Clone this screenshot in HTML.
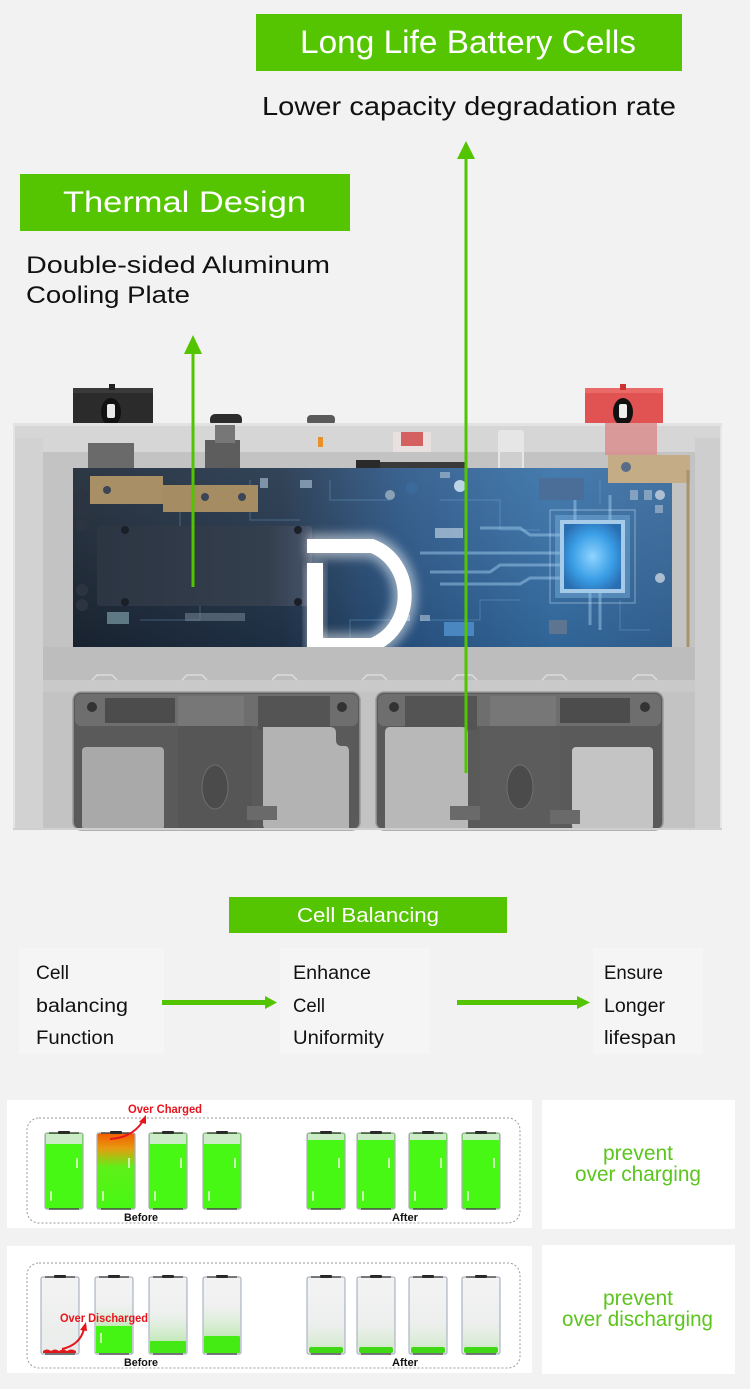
<!DOCTYPE html>
<html><head><meta charset="utf-8"><style>
html,body{margin:0;padding:0;background:#f2f2f2;}
svg{display:block;}
text{font-family:"Liberation Sans",Arial,sans-serif;}
</style></head><body>
<svg width="750" height="1389" viewBox="0 0 750 1389" xmlns="http://www.w3.org/2000/svg">
<defs>
<linearGradient id="pcb" x1="0" x2="1" y1="0" y2="0">
<stop offset="0" stop-color="#1b2634"/><stop offset="0.35" stop-color="#21344b"/><stop offset="0.55" stop-color="#2a5687"/><stop offset="0.8" stop-color="#3670a8"/><stop offset="1" stop-color="#35679a"/>
</linearGradient>
<linearGradient id="pcbv" x1="0" x2="0" y1="0" y2="1">
<stop offset="0" stop-color="#ffffff" stop-opacity="0.08"/><stop offset="1" stop-color="#000" stop-opacity="0.1"/>
</linearGradient>
<linearGradient id="hs" x1="0" x2="1" y1="0" y2="0">
<stop offset="0" stop-color="#2c3542"/><stop offset="0.8" stop-color="#343f4e"/><stop offset="1" stop-color="#46536a"/>
</linearGradient>
<radialGradient id="chip" cx="0.5" cy="0.5" r="0.6">
<stop offset="0" stop-color="#8fd4ff"/><stop offset="0.6" stop-color="#3a9ee6"/><stop offset="1" stop-color="#2a6eb2"/>
</radialGradient>
<linearGradient id="casing" x1="0" x2="1" y1="0" y2="0">
<stop offset="0" stop-color="#cecece"/><stop offset="0.5" stop-color="#c8c8c8"/><stop offset="1" stop-color="#cdcdcd"/>
</linearGradient>
<linearGradient id="empty" x1="0" x2="0" y1="0" y2="1">
<stop offset="0" stop-color="#f3f3f3"/><stop offset="1" stop-color="#e9ecea"/>
</linearGradient>
<linearGradient id="fade" x1="0" x2="0" y1="0" y2="1">
<stop offset="0" stop-color="#d8f0d4" stop-opacity="0"/><stop offset="1" stop-color="#bfe8b5" stop-opacity="0.9"/>
</linearGradient>
<linearGradient id="over" x1="0" x2="0" y1="0" y2="1">
<stop offset="0" stop-color="#f25a00"/><stop offset="0.2" stop-color="#e89a10"/><stop offset="0.45" stop-color="#5ef018"/><stop offset="1" stop-color="#47f814"/>
</linearGradient>
<filter id="glow" x="-30%" y="-30%" width="160%" height="160%"><feGaussianBlur stdDeviation="5"/></filter>
</defs>

<rect width="750" height="1389" fill="#f2f2f2"/>

<!-- ========== PRODUCT IMAGE ========== -->
<rect x="73" y="388" width="80" height="36" fill="#2b2b2b"/>
<rect x="73" y="388" width="80" height="5" fill="#3a3a3a"/>
<ellipse cx="111" cy="412" rx="10" ry="14" fill="#111"/>
<rect x="107" y="404" width="8" height="14" rx="2" fill="#e8e8e8"/>
<rect x="109" y="384" width="6" height="6" fill="#222"/>
<rect x="585" y="388" width="78" height="36" fill="#e15252"/>
<rect x="585" y="388" width="78" height="5" fill="#ea6a6a"/>
<ellipse cx="623" cy="412" rx="10" ry="14" fill="#111"/>
<rect x="619" y="404" width="8" height="14" rx="2" fill="#eee"/>
<rect x="620" y="384" width="6" height="6" fill="#c33"/>
<rect x="210" y="414" width="32" height="12" rx="5" fill="#2c2c2c"/>
<rect x="307" y="415" width="28" height="10" rx="4" fill="#5a5a5a"/>

<rect x="13" y="423" width="709" height="407" fill="url(#casing)"/>
<rect x="13" y="423" width="709" height="3" fill="#e2e2e2"/>
<polygon points="13,426 722,426 722,438 695,452 43,452 13,438" fill="#d6d6d6"/>
<rect x="43" y="452" width="652" height="378" fill="#c3c3c3"/>
<rect x="13" y="438" width="30" height="392" fill="#d2d2d2"/>
<rect x="695" y="438" width="27" height="392" fill="#cecece"/>
<rect x="720" y="426" width="2" height="404" fill="#e6e6e6"/>
<rect x="13" y="426" width="2" height="404" fill="#e4e4e4"/>
<rect x="605" y="423" width="52" height="32" fill="#d98a8a" opacity="0.8"/>
<rect x="88" y="443" width="46" height="36" fill="#6a6a6a"/>
<rect x="205" y="440" width="35" height="50" fill="#5d5d5d"/>
<rect x="215" y="425" width="20" height="18" fill="#777"/>
<rect x="318" y="437" width="5" height="10" fill="#e8902a"/>
<rect x="393" y="432" width="38" height="20" fill="#e9e0e0"/>
<rect x="401" y="432" width="22" height="14" fill="#d46060"/>
<rect x="356" y="460" width="24" height="30" fill="#2a2a2a"/>
<rect x="380" y="462" width="85" height="8" fill="#3a3a3a"/>
<rect x="498" y="430" width="26" height="55" rx="3" fill="#e6e6e6"/>
<rect x="500" y="452" width="22" height="32" fill="#cfcfcf"/>

<rect x="73" y="468" width="599" height="179" fill="url(#pcb)"/>
<rect x="73" y="468" width="599" height="179" fill="url(#pcbv)"/>
<g stroke="#7fb6e6" stroke-width="1" fill="none" opacity="0.35">
<path d="M120 500 H180 V540 H230 M140 620 H200 V600 H260 M250 480 V520 H300"/>
<path d="M440 500 H500 V530 H540 M420 620 H480 V600 H520 M600 480 V505 M620 600 V630 H650"/>
<path d="M330 480 V500 H390 M350 640 V620 H400"/>
</g>
<g stroke="#a8d4f4" stroke-width="3" fill="none" opacity="0.45">
<path d="M420 553 H560 M430 572 H490 L500 565 H560 M440 584 H520 L530 578 H560 M480 528 H520 L530 535 H560"/>
<path d="M590 593 V625 M600 593 V630 M575 520 V500 M610 520 V495"/>
</g>
<g fill="#9fb6cc" opacity="0.7">
<rect x="440" y="472" width="10" height="6"/><rect x="300" y="480" width="12" height="8"/><rect x="260" y="478" width="8" height="10"/>
<rect x="630" y="490" width="8" height="10"/><rect x="644" y="490" width="8" height="10"/><rect x="655" y="505" width="8" height="8"/>
<rect x="435" y="528" width="28" height="10" fill="#b8cde0"/>
<rect x="400" y="615" width="10" height="6"/><rect x="420" y="615" width="10" height="6"/>
</g>
<circle cx="412" cy="488" r="6" fill="#3a6a9a"/>
<circle cx="460" cy="486" r="6" fill="#bcd4e8"/>
<circle cx="390" cy="495" r="5" fill="#8aa0b5"/>
<rect x="539" y="478" width="45" height="22" fill="#4a6e98"/>
<rect x="549" y="620" width="18" height="14" fill="#5d7590"/>
<rect x="444" y="622" width="30" height="14" fill="#4a86c0"/>
<g fill="#2b3440">
<circle cx="82" cy="495" r="6"/><circle cx="82" cy="510" r="6"/><circle cx="82" cy="525" r="6"/><circle cx="82" cy="590" r="6"/><circle cx="82" cy="605" r="6"/>
</g>
<circle cx="660" cy="495" r="5" fill="#c8d4e0" opacity="0.8"/>
<circle cx="660" cy="578" r="5" fill="#c8d4e0" opacity="0.8"/>
<rect x="185" y="613" width="60" height="8" fill="#6f7f8f" opacity="0.6"/>
<rect x="107" y="612" width="22" height="12" fill="#7a9aa5" opacity="0.7"/>
<rect x="97" y="526" width="215" height="80" rx="3" fill="url(#hs)"/>
<circle cx="125" cy="530" r="4" fill="#1a1f28"/><circle cx="298" cy="530" r="4" fill="#1a1f28"/>
<circle cx="125" cy="602" r="4" fill="#1a1f28"/><circle cx="298" cy="602" r="4" fill="#1a1f28"/>
<rect x="550" y="510" width="85" height="93" fill="none" stroke="#cfe6fa" stroke-width="1" opacity="0.5"/>
<rect x="555" y="515" width="75" height="83" fill="#8cc6f0" opacity="0.35"/>
<rect x="560" y="520" width="65" height="73" fill="#c8e6fb" opacity="0.7"/>
<rect x="564" y="524" width="57" height="65" fill="url(#chip)"/>
<path d="M307 546 H372 A49 52.5 0 0 1 372 645 H315" fill="none" stroke="#ffffff" stroke-width="24" opacity="0.5" filter="url(#glow)"/>
<rect x="307" y="563" width="16" height="89" fill="#fff" opacity="0.5" filter="url(#glow)"/>
<path d="M307 546 H372 A49 52.5 0 0 1 372 645 H315" fill="none" stroke="#ffffff" stroke-width="14"/>
<rect x="307" y="563" width="16" height="89" fill="#fff"/>
<rect x="90" y="476" width="73" height="28" fill="#a88f66"/>
<rect x="163" y="485" width="95" height="27" fill="#a58c62"/>
<circle cx="107" cy="490" r="4" fill="#3b4656"/><circle cx="205" cy="497" r="4" fill="#3b4656"/><circle cx="242" cy="497" r="4" fill="#3b4656"/>
<rect x="608" y="455" width="82" height="28" fill="#c4ad86"/>
<circle cx="626" cy="467" r="5" fill="#5a6d88"/>
<path d="M688 470 V675 Q688 681 682 681 H425" fill="none" stroke="#a8946a" stroke-width="3"/>

<rect x="43" y="647" width="652" height="33" fill="#bdbdbd"/>
<rect x="43" y="680" width="652" height="12" fill="#c9c9c9"/>
<g fill="none" stroke="#dcdcdc" stroke-width="1.5">
<path d="M92 680 l5 -5 h15 l5 5 M182 680 l5 -5 h15 l5 5 M272 680 l5 -5 h15 l5 5 M362 680 l5 -5 h15 l5 5 M452 680 l5 -5 h15 l5 5 M542 680 l5 -5 h15 l5 5 M632 680 l5 -5 h15 l5 5"/>
</g>
<g>
<rect x="73" y="692" width="287" height="138" rx="8" fill="#5a5a5a" stroke="#9a9a9a" stroke-width="1.5"/>
<rect x="75" y="694" width="283" height="32" rx="6" fill="#6e6e6e"/>
<rect x="105" y="698" width="70" height="25" fill="#4c4c4c"/>
<rect x="178" y="696" width="66" height="30" fill="#777"/>
<rect x="258" y="696" width="72" height="34" fill="#545454"/>
<circle cx="92" cy="707" r="5" fill="#333"/><circle cx="342" cy="707" r="5" fill="#333"/>
<rect x="82" y="747" width="82" height="83" rx="4" fill="#a9a9a9"/>
<path d="M263 727 H330 Q336 727 336 733 V740 Q336 746 342 746 H345 Q349 746 349 752 V830 H269 Q263 830 263 824 Z" fill="#b3b3b3"/>
<rect x="178" y="726" width="74" height="104" fill="#565656"/>
<ellipse cx="215" cy="787" rx="13" ry="22" fill="#4b4b4b" stroke="#6e6e6e"/>
<rect x="247" y="806" width="30" height="14" fill="#6a6a6a"/>
</g>
<g>
<rect x="376" y="692" width="287" height="138" rx="8" fill="#5a5a5a" stroke="#9a9a9a" stroke-width="1.5"/>
<rect x="378" y="694" width="283" height="32" rx="6" fill="#6e6e6e"/>
<rect x="405" y="696" width="72" height="34" fill="#545454"/>
<rect x="490" y="696" width="66" height="30" fill="#777"/>
<rect x="560" y="698" width="70" height="25" fill="#4c4c4c"/>
<circle cx="394" cy="707" r="5" fill="#333"/><circle cx="645" cy="707" r="5" fill="#333"/>
<path d="M390 727 Q385 727 385 733 V830 H468 V733 Q468 727 462 727 Z" fill="#b8b8b8"/>
<rect x="572" y="747" width="81" height="83" rx="4" fill="#c4c4c4"/>
<rect x="480" y="726" width="80" height="104" fill="#5c5c5c"/>
<ellipse cx="520" cy="787" rx="13" ry="22" fill="#4b4b4b" stroke="#6e6e6e"/>
<rect x="450" y="806" width="30" height="14" fill="#6a6a6a"/>
<rect x="550" y="810" width="30" height="14" fill="#6a6a6a"/>
</g>
<rect x="13" y="828" width="709" height="2" fill="#d0d0d0"/>

<line x1="193" y1="350" x2="193" y2="587" stroke="#52c400" stroke-width="3"/>
<polygon points="193,335 184,354 202,354" fill="#52c400"/>
<line x1="466" y1="156" x2="466" y2="773" stroke="#52c400" stroke-width="3"/>
<polygon points="466,141 457,159 475,159" fill="#52c400"/>

<rect x="256" y="14" width="426" height="57" fill="#54c500"/>
<text x="300" y="53" font-size="32" fill="#fff" textLength="336" lengthAdjust="spacingAndGlyphs">Long Life Battery Cells</text>
<text x="262" y="115" font-size="26" fill="#111" textLength="414" lengthAdjust="spacingAndGlyphs">Lower capacity degradation rate</text>
<rect x="20" y="174" width="330" height="57" fill="#54c500"/>
<text x="63" y="212" font-size="30" fill="#fff" textLength="243" lengthAdjust="spacingAndGlyphs">Thermal Design</text>
<text x="26" y="273" font-size="24" fill="#111" textLength="304" lengthAdjust="spacingAndGlyphs">Double-sided Aluminum</text>
<text x="26" y="303" font-size="24" fill="#111" textLength="164" lengthAdjust="spacingAndGlyphs">Cooling Plate</text>

<rect x="229" y="897" width="278" height="36" fill="#54c500"/>
<text x="297" y="922" font-size="20" fill="#fff" textLength="142" lengthAdjust="spacingAndGlyphs">Cell Balancing</text>
<rect x="19" y="948" width="145" height="106" fill="#f5f5f5"/>
<rect x="280" y="948" width="150" height="106" fill="#f5f5f5"/>
<rect x="593" y="948" width="110" height="106" fill="#f5f5f5"/>
<g font-size="19" fill="#111">
<text x="36" y="979" textLength="33" lengthAdjust="spacingAndGlyphs">Cell</text>
<text x="36" y="1012" textLength="92" lengthAdjust="spacingAndGlyphs">balancing</text>
<text x="36" y="1044" textLength="78" lengthAdjust="spacingAndGlyphs">Function</text>
<text x="293" y="979" textLength="78" lengthAdjust="spacingAndGlyphs">Enhance</text>
<text x="293" y="1012" textLength="32" lengthAdjust="spacingAndGlyphs">Cell</text>
<text x="293" y="1044" textLength="91" lengthAdjust="spacingAndGlyphs">Uniformity</text>
<text x="604" y="979" textLength="59" lengthAdjust="spacingAndGlyphs">Ensure</text>
<text x="604" y="1012" textLength="61" lengthAdjust="spacingAndGlyphs">Longer</text>
<text x="604" y="1044" textLength="72" lengthAdjust="spacingAndGlyphs">lifespan</text>
</g>
<rect x="162" y="1000" width="104" height="5" fill="#52c400"/>
<polygon points="265,996 277,1002.5 265,1009" fill="#52c400"/>
<rect x="457" y="1000" width="121" height="5" fill="#52c400"/>
<polygon points="577,996 590,1002.5 577,1009" fill="#52c400"/>

<rect x="7" y="1100" width="525" height="128" fill="#fff"/>
<rect x="542" y="1100" width="193" height="129" fill="#fff"/>
<rect x="27" y="1118" width="493" height="105" rx="12" fill="none" stroke="#9a9a9a" stroke-width="1" stroke-dasharray="2,2"/>
<g>
<g transform="translate(45,1133)">
<rect x="0" y="0" width="38" height="76" rx="2" fill="#47f814" stroke="#a9afb5" stroke-width="1.2"/>
<rect x="1" y="1" width="36" height="10" fill="#cbecc6"/>
<rect x="13" y="-2" width="12" height="3" rx="1" fill="#222"/><path d="M4 0 H34 M4 76 H34" stroke="#333" stroke-width="1.2"/>
<rect x="31" y="25" width="2" height="10" fill="#c8f7b0"/><rect x="5" y="58" width="2" height="10" fill="#c8f7b0"/>
</g>
<g transform="translate(97,1133)">
<rect x="0" y="0" width="38" height="76" rx="2" fill="url(#over)" stroke="#a9afb5" stroke-width="1.2"/>
<rect x="13" y="-2" width="12" height="3" rx="1" fill="#222"/><path d="M4 0 H34 M4 76 H34" stroke="#333" stroke-width="1.2"/>
<rect x="31" y="25" width="2" height="10" fill="#c8f7b0"/><rect x="5" y="58" width="2" height="10" fill="#c8f7b0"/>
</g>
<g transform="translate(149,1133)">
<rect x="0" y="0" width="38" height="76" rx="2" fill="#47f814" stroke="#a9afb5" stroke-width="1.2"/>
<rect x="1" y="1" width="36" height="10" fill="#cbecc6"/>
<rect x="13" y="-2" width="12" height="3" rx="1" fill="#222"/><path d="M4 0 H34 M4 76 H34" stroke="#333" stroke-width="1.2"/>
<rect x="31" y="25" width="2" height="10" fill="#c8f7b0"/><rect x="5" y="58" width="2" height="10" fill="#c8f7b0"/>
</g>
<g transform="translate(203,1133)">
<rect x="0" y="0" width="38" height="76" rx="2" fill="#47f814" stroke="#a9afb5" stroke-width="1.2"/>
<rect x="1" y="1" width="36" height="10" fill="#cbecc6"/>
<rect x="13" y="-2" width="12" height="3" rx="1" fill="#222"/><path d="M4 0 H34 M4 76 H34" stroke="#333" stroke-width="1.2"/>
<rect x="31" y="25" width="2" height="10" fill="#c8f7b0"/><rect x="5" y="58" width="2" height="10" fill="#c8f7b0"/>
</g>
<g transform="translate(307,1133)">
<rect x="0" y="0" width="38" height="76" rx="2" fill="#47f814" stroke="#a9afb5" stroke-width="1.2"/>
<rect x="1" y="1" width="36" height="6" fill="#cbecc6"/>
<rect x="13" y="-2" width="12" height="3" rx="1" fill="#222"/><path d="M4 0 H34 M4 76 H34" stroke="#333" stroke-width="1.2"/>
<rect x="31" y="25" width="2" height="10" fill="#c8f7b0"/><rect x="5" y="58" width="2" height="10" fill="#c8f7b0"/>
</g>
<g transform="translate(357,1133)">
<rect x="0" y="0" width="38" height="76" rx="2" fill="#47f814" stroke="#a9afb5" stroke-width="1.2"/>
<rect x="1" y="1" width="36" height="6" fill="#cbecc6"/>
<rect x="13" y="-2" width="12" height="3" rx="1" fill="#222"/><path d="M4 0 H34 M4 76 H34" stroke="#333" stroke-width="1.2"/>
<rect x="31" y="25" width="2" height="10" fill="#c8f7b0"/><rect x="5" y="58" width="2" height="10" fill="#c8f7b0"/>
</g>
<g transform="translate(409,1133)">
<rect x="0" y="0" width="38" height="76" rx="2" fill="#47f814" stroke="#a9afb5" stroke-width="1.2"/>
<rect x="1" y="1" width="36" height="6" fill="#cbecc6"/>
<rect x="13" y="-2" width="12" height="3" rx="1" fill="#222"/><path d="M4 0 H34 M4 76 H34" stroke="#333" stroke-width="1.2"/>
<rect x="31" y="25" width="2" height="10" fill="#c8f7b0"/><rect x="5" y="58" width="2" height="10" fill="#c8f7b0"/>
</g>
<g transform="translate(462,1133)">
<rect x="0" y="0" width="38" height="76" rx="2" fill="#47f814" stroke="#a9afb5" stroke-width="1.2"/>
<rect x="1" y="1" width="36" height="6" fill="#cbecc6"/>
<rect x="13" y="-2" width="12" height="3" rx="1" fill="#222"/><path d="M4 0 H34 M4 76 H34" stroke="#333" stroke-width="1.2"/>
<rect x="31" y="25" width="2" height="10" fill="#c8f7b0"/><rect x="5" y="58" width="2" height="10" fill="#c8f7b0"/>
</g>
</g>
<path d="M110 1139 Q132 1138 143 1121" fill="none" stroke="#e8141c" stroke-width="2"/>
<polygon points="146,1115 139,1122 146,1124" fill="#e8141c"/>
<text x="128" y="1113" font-size="12" font-weight="bold" fill="#e8141c" textLength="74" lengthAdjust="spacingAndGlyphs">Over Charged</text>
<text x="124" y="1221" font-size="11" font-weight="bold" fill="#111" textLength="34" lengthAdjust="spacingAndGlyphs">Before</text>
<text x="392" y="1221" font-size="11" font-weight="bold" fill="#111" textLength="26" lengthAdjust="spacingAndGlyphs">After</text>
<text x="603" y="1160" font-size="21" fill="#5cc51e" textLength="70" lengthAdjust="spacingAndGlyphs">prevent</text>
<text x="575" y="1181" font-size="21" fill="#5cc51e" textLength="126" lengthAdjust="spacingAndGlyphs">over charging</text>

<rect x="7" y="1246" width="525" height="127" fill="#fff"/>
<rect x="542" y="1245" width="193" height="129" fill="#fff"/>
<rect x="27" y="1263" width="493" height="105" rx="12" fill="none" stroke="#9a9a9a" stroke-width="1" stroke-dasharray="2,2"/>
<g transform="translate(41,1277)">
<rect x="0" y="0" width="38" height="77" rx="2" fill="url(#empty)" stroke="#a9b3c0" stroke-width="1.2"/>
<path d="M2 74 q4 -3 8 0 q4 -3 8 0 q4 -3 8 0 q4 -3 9 0 V76 H2 Z" fill="#e01a1a"/>
<rect x="13" y="-2" width="12" height="3" rx="1" fill="#222"/><path d="M4 0 H34 M4 77 H34" stroke="#333" stroke-width="1.2"/>
</g>
<g transform="translate(95,1277)">
<rect x="0" y="0" width="38" height="77" rx="2" fill="url(#empty)" stroke="#a9b3c0" stroke-width="1.2"/>
<rect x="1" y="29" width="36" height="20" fill="url(#fade)"/>
<rect x="1" y="49" width="36" height="27" fill="#44f514"/>
<rect x="5" y="56" width="2" height="10" fill="#c8f7b0"/>
<rect x="13" y="-2" width="12" height="3" rx="1" fill="#222"/><path d="M4 0 H34 M4 77 H34" stroke="#333" stroke-width="1.2"/>
</g>
<g transform="translate(149,1277)">
<rect x="0" y="0" width="38" height="77" rx="2" fill="url(#empty)" stroke="#a9b3c0" stroke-width="1.2"/>
<rect x="1" y="34" width="36" height="30" fill="url(#fade)"/>
<rect x="1" y="64" width="36" height="12" rx="1" fill="#44e814"/>
<rect x="13" y="-2" width="12" height="3" rx="1" fill="#222"/><path d="M4 0 H34 M4 77 H34" stroke="#333" stroke-width="1.2"/>
</g>
<g transform="translate(203,1277)">
<rect x="0" y="0" width="38" height="77" rx="2" fill="url(#empty)" stroke="#a9b3c0" stroke-width="1.2"/>
<rect x="1" y="29" width="36" height="30" fill="url(#fade)"/>
<rect x="1" y="59" width="36" height="17" rx="1" fill="#44ec14"/>
<rect x="13" y="-2" width="12" height="3" rx="1" fill="#222"/><path d="M4 0 H34 M4 77 H34" stroke="#333" stroke-width="1.2"/>
</g>
<g transform="translate(307,1277)">
<rect x="0" y="0" width="38" height="77" rx="2" fill="url(#empty)" stroke="#a9b3c0" stroke-width="1.2"/>
<rect x="1" y="45" width="36" height="25" fill="url(#fade)" opacity="0.6"/>
<rect x="2" y="70" width="34" height="6" rx="2" fill="#40d814"/>
<rect x="13" y="-2" width="12" height="3" rx="1" fill="#222"/><path d="M4 0 H34 M4 77 H34" stroke="#333" stroke-width="1.2"/>
</g>
<g transform="translate(357,1277)">
<rect x="0" y="0" width="38" height="77" rx="2" fill="url(#empty)" stroke="#a9b3c0" stroke-width="1.2"/>
<rect x="1" y="45" width="36" height="25" fill="url(#fade)" opacity="0.6"/>
<rect x="2" y="70" width="34" height="6" rx="2" fill="#40d814"/>
<rect x="13" y="-2" width="12" height="3" rx="1" fill="#222"/><path d="M4 0 H34 M4 77 H34" stroke="#333" stroke-width="1.2"/>
</g>
<g transform="translate(409,1277)">
<rect x="0" y="0" width="38" height="77" rx="2" fill="url(#empty)" stroke="#a9b3c0" stroke-width="1.2"/>
<rect x="1" y="45" width="36" height="25" fill="url(#fade)" opacity="0.6"/>
<rect x="2" y="70" width="34" height="6" rx="2" fill="#40d814"/>
<rect x="13" y="-2" width="12" height="3" rx="1" fill="#222"/><path d="M4 0 H34 M4 77 H34" stroke="#333" stroke-width="1.2"/>
</g>
<g transform="translate(462,1277)">
<rect x="0" y="0" width="38" height="77" rx="2" fill="url(#empty)" stroke="#a9b3c0" stroke-width="1.2"/>
<rect x="1" y="45" width="36" height="25" fill="url(#fade)" opacity="0.6"/>
<rect x="2" y="70" width="34" height="6" rx="2" fill="#40d814"/>
<rect x="13" y="-2" width="12" height="3" rx="1" fill="#222"/><path d="M4 0 H34 M4 77 H34" stroke="#333" stroke-width="1.2"/>
</g>
<path d="M62 1349 Q80 1345 84 1329" fill="none" stroke="#e8141c" stroke-width="2"/>
<polygon points="86,1322 80,1330 87,1331" fill="#e8141c"/>
<text x="60" y="1322" font-size="12" font-weight="bold" fill="#e8141c" textLength="88" lengthAdjust="spacingAndGlyphs">Over Discharged</text>
<text x="124" y="1366" font-size="11" font-weight="bold" fill="#111" textLength="34" lengthAdjust="spacingAndGlyphs">Before</text>
<text x="392" y="1366" font-size="11" font-weight="bold" fill="#111" textLength="26" lengthAdjust="spacingAndGlyphs">After</text>
<text x="603" y="1305" font-size="21" fill="#5cc51e" textLength="70" lengthAdjust="spacingAndGlyphs">prevent</text>
<text x="562" y="1326" font-size="21" fill="#5cc51e" textLength="151" lengthAdjust="spacingAndGlyphs">over discharging</text>
</svg>
</body></html>
